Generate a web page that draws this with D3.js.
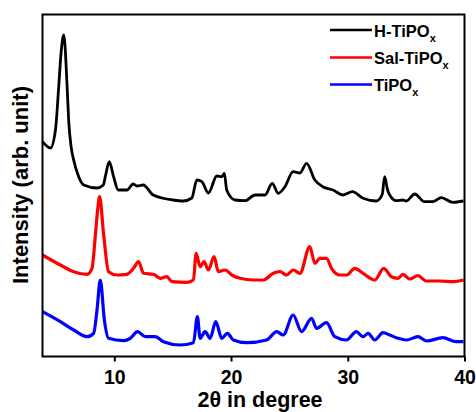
<!DOCTYPE html>
<html>
<head>
<meta charset="utf-8">
<script src="https://cdn.jsdelivr.net/npm/d3@7"></script>
<style>
  body { margin: 0; background: #fff; }
  text { font-family: Arial, "Liberation Sans", sans-serif; font-weight: bold; }
</style>
</head>
<body>
<div id="chart"></div>
<script>
// XRD patterns, [2theta, intensity (arb.)], stacked with offsets as in the figure
var hTiPOx = [
  [3.85, 214.8], [4.53, 208.5], [4.96, 226.5], [5.24, 269.8], [5.44, 303.5],
  [5.67, 321.5], [5.96, 269.8], [6.09, 236.5], [6.30, 209.8], [6.52, 196.5],
  [6.95, 179.8], [7.38, 171.5], [8.52, 168.5], [9.06, 171.5], [9.23, 179.8],
  [9.57, 194.8], [9.94, 179.8], [10.34, 166.5], [11.09, 166.5], [11.62, 172.5],
  [11.94, 170.5], [12.48, 171.5], [13.33, 161.5], [15.04, 156.5], [15.90, 155.5],
  [16.64, 158.5], [17.07, 176.5], [17.50, 174.8], [18.06, 163.5], [18.78, 180.5],
  [19.21, 179.8], [19.43, 183.2], [19.63, 166.5], [20.34, 156.5], [21.20, 155.8],
  [22.05, 161.5], [22.91, 161.5], [23.53, 173.2], [24.04, 163.2], [24.62, 169.8],
  [25.32, 184.8], [25.90, 183.5], [26.47, 193.2], [27.18, 176.5], [27.86, 169.8],
  [28.74, 166.5], [29.60, 161.5], [30.40, 164.8], [31.31, 158.2], [32.45, 155.5],
  [32.95, 162.0], [33.16, 179.8], [33.40, 167.0], [33.59, 161.5], [34.16, 155.8],
  [34.73, 156.5], [35.02, 155.5], [35.73, 162.5], [36.58, 154.8], [37.29, 154.8],
  [38.01, 158.8], [39.00, 154.2], [39.91, 155.5]
];

var salTiPOx = [
  [3.85, 101.5], [5.38, 91.5], [6.52, 84.8], [7.67, 82.2], [8.09, 88.2],
  [8.38, 121.5], [8.56, 145.0], [8.74, 159.8], [9.09, 121.5], [9.51, 84.8],
  [10.23, 81.5], [11.09, 82.2], [11.65, 88.2], [12.08, 94.8], [12.50, 83.2],
  [13.36, 82.2], [13.93, 78.2], [14.50, 79.8], [14.93, 74.8], [16.21, 74.2],
  [16.78, 76.5], [17.01, 103.2], [17.35, 89.8], [17.69, 94.8], [18.06, 86.5],
  [18.55, 99.8], [18.91, 84.8], [19.49, 86.5], [20.06, 81.5], [20.77, 78.2],
  [21.91, 76.5], [22.76, 76.5], [23.62, 83.2], [24.19, 84.8], [24.76, 81.5],
  [25.32, 86.5], [25.90, 83.2], [26.75, 109.8], [27.18, 93.2], [27.61, 98.2],
  [28.18, 98.2], [28.61, 88.2], [29.32, 81.5], [29.89, 81.5], [30.60, 88.2],
  [31.31, 83.2], [32.31, 76.5], [33.08, 88.2], [33.74, 79.8], [34.30, 78.2],
  [34.73, 82.2], [35.30, 77.5], [36.01, 80.8], [36.73, 75.5], [37.86, 75.5],
  [39.00, 74.8], [39.91, 76.5]
];

var tiPOx = [
  [3.85, 44.8], [5.38, 34.8], [6.52, 26.5], [7.67, 19.8], [8.23, 23.2],
  [8.52, 46.5], [8.80, 76.5], [9.15, 36.5], [9.51, 18.2], [10.79, 15.8],
  [11.37, 18.2], [11.99, 24.8], [12.65, 19.8], [13.50, 19.8], [14.21, 14.8],
  [15.64, 11.5], [16.78, 13.8], [17.12, 39.8], [17.35, 18.2], [17.78, 24.8],
  [18.21, 18.2], [18.69, 34.8], [19.21, 18.2], [19.68, 23.2], [20.20, 16.5],
  [21.34, 13.8], [23.05, 16.5], [23.91, 24.8], [24.47, 21.5], [25.32, 41.5],
  [26.04, 24.8], [26.90, 38.2], [27.32, 28.2], [28.18, 33.8], [28.89, 19.8],
  [29.89, 16.5], [30.74, 24.8], [31.31, 19.8], [31.74, 23.2], [32.31, 16.5],
  [33.02, 23.8], [33.59, 21.5], [34.30, 18.2], [35.02, 16.5], [36.01, 19.8],
  [36.73, 15.5], [38.15, 18.8], [39.29, 14.8], [39.91, 14.8]
];

var seriesNames = ["H-TiPO", "Sal-TiPO", "TiPO"];
var seriesColors = ["#000000", "#ff0000", "#0000ff"];
var xTicks = [10, 20, 30, 40];

var W = 476, H = 412;
var m = { l: 42.5, t: 14.5, r: 11.5, b: 55.5 };
var iw = W - m.l - m.r;
var ih = H - m.t - m.b;

var svg = d3.select("#chart").append("svg")
  .attr("width", W)
  .attr("height", H);

var g = svg.append("g").attr("transform", `translate(${m.l},${m.t})`);

var x = d3.scaleLinear().domain([3.85, 40]).range([0, iw]);
var y = d3.scaleLinear().domain([0, 342]).range([ih, 0]);

var line = d3.line()
  .x((d) => x(d[0]))
  .y((d) => y(d[1]))
  .curve(d3.curveMonotoneX);

var allSeries = [hTiPOx, salTiPOx, tiPOx];
var widths = [2.8, 3.2, 3.2];

allSeries.forEach((s, i) => {
  g.append("path")
    .datum(s)
    .attr("fill", "none")
    .attr("stroke", seriesColors[i])
    .attr("stroke-width", widths[i])
    .attr("stroke-linejoin", "round")
    .attr("d", line);
});

// frame
g.append("rect")
  .attr("width", iw)
  .attr("height", ih)
  .attr("fill", "none")
  .attr("stroke", "#000")
  .attr("stroke-width", 2);

var xAxis = g.append("g")
  .attr("transform", `translate(0,${ih})`)
  .call(d3.axisBottom(x).tickValues(xTicks).tickSize(5).tickPadding(9));
xAxis.select(".domain").remove();
xAxis.selectAll("line").attr("stroke-width", 2);
xAxis.selectAll("text")
  .attr("font-size", 19.5)
  .attr("font-family", "Arial, 'Liberation Sans', sans-serif")
  .attr("font-weight", "bold")
  .attr("fill", "#000");

svg.append("text")
  .attr("x", 260)
  .attr("y", 407)
  .attr("text-anchor", "middle")
  .attr("font-size", 21.5)
  .text("2θ in degree");

svg.append("text")
  .attr("transform", "translate(28,185) rotate(-90)")
  .attr("text-anchor", "middle")
  .attr("font-size", 22)
  .text("Intensity (arb. unit)");

// legend
var legY = [30, 57.5, 84.5];
seriesNames.forEach((name, i) => {
  svg.append("line")
    .attr("x1", 330).attr("x2", 372)
    .attr("y1", legY[i]).attr("y2", legY[i])
    .attr("stroke", seriesColors[i])
    .attr("stroke-width", 2.5);
  var t = svg.append("text")
    .attr("x", 374)
    .attr("y", legY[i] + 6.5)
    .attr("font-size", 16.5);
  t.append("tspan").text(name);
  t.append("tspan")
    .attr("font-size", 11)
    .attr("dy", 5)
    .text("x");
});
</script>
</body>
</html>
